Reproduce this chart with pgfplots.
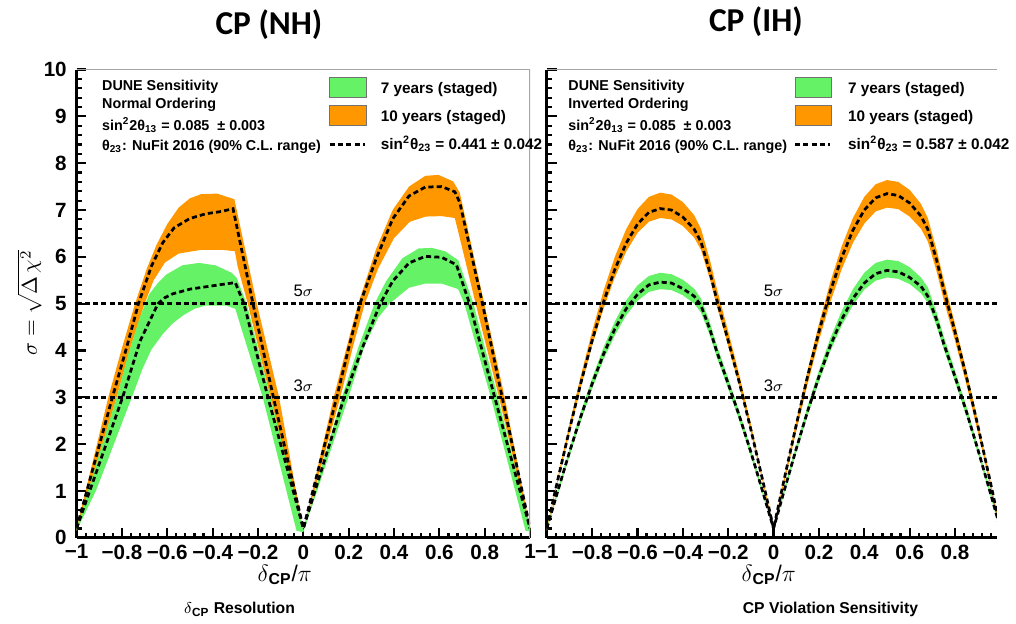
\documentclass[border=0pt]{standalone}
\usepackage{fontspec}
\setmainfont{Liberation Sans}
\newfontfamily\carlito{Carlito}
\usepackage{pgfplots}
\pgfplotsset{compat=1.18}

\definecolor{bandseven}{RGB}{102,242,102}
\definecolor{bandten}{RGB}{255,152,0}

\tikzset{sigdash/.style={black, line width=1.4pt, dash pattern=on 2.6pt off 1.6pt}}

\pgfplotsset{
  dune/.style={
    scale only axis, height=238.5pt, anchor=south west,
    xmin=-1, ymin=0, ymax=10,
    axis x line*=bottom, axis y line*=left,
    axis line style={black, line width=1.5pt},
    tick align=inside,
    xtick={-1,-0.8,-0.6,-0.4,-0.2,0,0.2,0.4,0.6,0.8,1},
    xticklabels={−1,−0.8,−0.6,−0.4,−0.2,0,0.2,0.4,0.6,0.8,1},
    ytick={0,1,2,3,4,5,6,7,8,9,10},
    minor x tick num=4, minor y tick num=4,
    major tick length=5pt, minor tick length=2.6pt,
    tick style={black, line width=1.1pt},
    tick label style={font=\fontsize{10.5}{12}\selectfont\bfseries},
    yticklabel style={xshift=-1.5pt},
  },
}

\newcommand\txt{\fontsize{7.3}{9}\selectfont\bfseries}
\newcommand\legtxt{\fontsize{7.8}{9}\selectfont\bfseries}

\begin{document}
\begin{tikzpicture}
\path (0,0) rectangle (508pt,315.5pt);

% ---------------- normal ordering
\begin{axis}[dune, at={(39pt,43pt)}, width=231pt, xmax=1,
  yticklabels={0,1,2,3,4,5,6,7,8,9,10}]
% 10 years band: upper edge, then lower edge backwards
\addplot[fill=bandten, draw=none] coordinates {
 (-1,0.2) (-0.93,1.6) (-0.86,3.0) (-0.80,4.05) (-0.742,5.0) (-0.69,5.75)
 (-0.648,6.25) (-0.60,6.7) (-0.55,7.05) (-0.50,7.25) (-0.45,7.34) (-0.38,7.35)
 (-0.304,7.23) (-0.205,5.0) (-0.107,3.0) (0,0.15) (0.134,3.0) (0.19,4.05)
 (0.242,5.0) (0.322,6.18) (0.394,7.0) (0.466,7.5) (0.538,7.73) (0.596,7.75)
 (0.661,7.61) (0.69,7.37) (0.798,5.0) (0.888,3.0) (1,0.2)
 (1,0.15) (0.863,3.0) (0.76,5.0) (0.685,6.5) (0.668,6.83) (0.61,6.87) (0.54,6.86)
 (0.47,6.75) (0.40,6.4) (0.33,5.75) (0.271,5.0) (0.22,4.1) (0.163,3.0) (0,0.15)
 (-0.145,3.0) (-0.245,5.0) (-0.29,5.8) (-0.302,6.12) (-0.36,6.15) (-0.45,6.15)
 (-0.55,6.07) (-0.61,5.88) (-0.66,5.5) (-0.70,5.0) (-0.76,4.1) (-0.823,3.0) (-1,0.15)};
% 7 years band
\addplot[fill=bandseven, draw=none] coordinates {
 (-1,0.2) (-0.823,3.0) (-0.77,3.95) (-0.72,4.72) (-0.68,5.2) (-0.64,5.45)
 (-0.605,5.62) (-0.533,5.82) (-0.46,5.87) (-0.388,5.82) (-0.316,5.66) (-0.294,5.55)
 (-0.25,5.0) (-0.145,3.0) (0,0.15) (0.17,3.0) (0.245,4.1) (0.314,5.0) (0.365,5.48)
 (0.437,5.97) (0.509,6.18) (0.567,6.19) (0.625,6.12) (0.683,5.93) (0.75,5.0)
 (0.858,3.0) (1,0.2)
 (1,0.15) (0.98,0.15) (0.827,3.0) (0.71,5.0) (0.683,5.31) (0.61,5.43) (0.538,5.43)
 (0.466,5.34) (0.38,5.0) (0.33,4.7) (0.27,4.1) (0.199,3.0) (0,0.12) (-0.03,0.15)
 (-0.179,3.0) (-0.30,4.89) (-0.34,4.96) (-0.43,4.96) (-0.48,4.89) (-0.53,4.75)
 (-0.576,4.58) (-0.62,4.35) (-0.67,4.02) (-0.71,3.6) (-0.756,3.0) (-0.80,2.45)
 (-0.855,1.75) (-0.915,1.0) (-1,0.15)};
\addplot[sigdash] coordinates {(-1,5) (1,5)};
\addplot[sigdash] coordinates {(-1,3) (1,3)};
\addplot[sigdash] coordinates {
 (-1,0.2) (-0.842,3.0) (-0.78,4.05) (-0.727,5.0) (-0.67,5.8) (-0.62,6.3)
 (-0.57,6.62) (-0.50,6.82) (-0.43,6.92) (-0.36,6.97) (-0.31,7.03) (-0.222,5.0)
 (-0.132,3.0) (0,0.2) (0.147,3.0) (0.20,4.05) (0.25,5.0) (0.322,5.97) (0.394,6.81)
 (0.466,7.3) (0.538,7.49) (0.61,7.5) (0.668,7.39) (0.69,7.16) (0.79,5.0)
 (0.877,3.0) (1,0.2)};
\addplot[sigdash] coordinates {
 (-1,0.2) (-0.797,3.0) (-0.72,4.2) (-0.641,5.0) (-0.61,5.13) (-0.576,5.21)
 (-0.50,5.31) (-0.43,5.36) (-0.36,5.41) (-0.30,5.45) (-0.262,5.0) (-0.156,3.0)
 (0,0.2) (0.18,3.0) (0.26,4.05) (0.339,5.0) (0.394,5.48) (0.466,5.87)
 (0.538,6.01) (0.61,5.99) (0.675,5.83) (0.733,5.0) (0.844,3.0) (1,0.2)};
\draw[gray!70, line width=0.6pt] (rel axis cs:0,1) -- (rel axis cs:1,1) -- (rel axis cs:1,0);
\node[font=\fontsize{8.5}{10}\selectfont] at (axis cs:0,5.28) {5$\sigma$};
\node[font=\fontsize{8.5}{10}\selectfont] at (axis cs:0,3.25) {3$\sigma$};
\end{axis}

% ---------------- inverted ordering (cut at the right edge as in the original)
\begin{axis}[dune, at={(278.5pt,43pt)}, width=229.3pt, xmax=0.985, yticklabels={}]
\addplot[fill=bandten, draw=none] coordinates {
 (-1,0.2) (-0.95,1.32) (-0.9,2.42) (-0.85,3.46) (-0.8,4.41) (-0.75,5.27)
 (-0.7,6.00) (-0.65,6.59) (-0.6,7.02) (-0.55,7.28) (-0.5,7.37) (-0.45,7.33)
 (-0.4,7.17) (-0.35,6.89) (-0.32,6.60) (-0.28,5.92) (-0.25,5.32) (-0.2,4.41)
 (-0.15,3.46) (-0.1,2.42) (-0.05,1.32) (0,0.2) (0.05,1.36) (0.1,2.50)
 (0.15,3.58) (0.2,4.57) (0.25,5.46) (0.3,6.22) (0.35,6.83) (0.4,7.28)
 (0.45,7.55) (0.5,7.64) (0.55,7.60) (0.6,7.43) (0.65,7.13) (0.68,6.83)
 (0.72,6.13) (0.75,5.51) (0.8,4.57) (0.85,3.58) (0.9,2.50) (0.95,1.36) (1,0.2)
 (1,0.15) (0.95,1.23) (0.9,2.28) (0.85,3.28) (0.8,4.21) (0.75,5.08) (0.72,5.67)
 (0.68,6.33) (0.65,6.60) (0.6,6.86) (0.55,7.02) (0.5,7.05) (0.45,6.97) (0.4,6.71)
 (0.35,6.30) (0.3,5.73) (0.25,5.03) (0.2,4.21) (0.15,3.28) (0.1,2.28) (0.05,1.23)
 (0,0.15) (-0.05,1.24) (-0.1,2.25) (-0.15,3.21) (-0.2,4.10) (-0.25,4.94)
 (-0.28,5.51) (-0.32,6.15) (-0.35,6.41) (-0.4,6.66) (-0.45,6.80) (-0.5,6.83)
 (-0.55,6.75) (-0.6,6.51) (-0.65,6.11) (-0.7,5.56) (-0.75,4.89) (-0.8,4.10)
 (-0.85,3.21) (-0.9,2.25) (-0.95,1.24) (-1,0.15)};
\addplot[fill=bandseven, draw=none] coordinates {
 (-1,0.2) (-0.95,1.05) (-0.9,1.89) (-0.85,2.68) (-0.8,3.41) (-0.75,4.06)
 (-0.7,4.62) (-0.65,5.07) (-0.6,5.39) (-0.55,5.59) (-0.5,5.66) (-0.45,5.63)
 (-0.4,5.51) (-0.35,5.32) (-0.32,5.11) (-0.28,4.59) (-0.25,4.11) (-0.2,3.41)
 (-0.15,2.68) (-0.1,1.89) (-0.05,1.05) (0,0.2) (0.05,1.10) (0.1,1.97)
 (0.15,2.81) (0.2,3.57) (0.25,4.26) (0.3,4.84) (0.35,5.31) (0.4,5.66)
 (0.45,5.87) (0.5,5.94) (0.55,5.91) (0.6,5.78) (0.65,5.56) (0.68,5.35)
 (0.72,4.80) (0.75,4.31) (0.8,3.57) (0.85,2.81) (0.9,1.97) (0.95,1.10) (1,0.2)
 (1,0.15) (0.95,1.00) (0.9,1.82) (0.85,2.61) (0.8,3.33) (0.75,4.03) (0.72,4.50)
 (0.68,5.02) (0.65,5.22) (0.6,5.42) (0.55,5.53) (0.5,5.56) (0.45,5.49) (0.4,5.30)
 (0.35,4.97) (0.3,4.53) (0.25,3.98) (0.2,3.33) (0.15,2.61) (0.1,1.82) (0.05,1.00)
 (0,0.15) (-0.05,0.96) (-0.1,1.74) (-0.15,2.49) (-0.2,3.18) (-0.25,3.85)
 (-0.28,4.31) (-0.32,4.81) (-0.35,5.00) (-0.4,5.18) (-0.45,5.29) (-0.5,5.31)
 (-0.55,5.25) (-0.6,5.06) (-0.65,4.75) (-0.7,4.32) (-0.75,3.80) (-0.8,3.18)
 (-0.85,2.49) (-0.9,1.74) (-0.95,0.96) (-1,0.15)};
\addplot[sigdash] coordinates {(-1,5) (1,5)};
\addplot[sigdash] coordinates {(-1,3) (1,3)};
\addplot[sigdash] coordinates {
 (-1,0.2) (-0.95,1.27) (-0.9,2.31) (-0.85,3.30) (-0.8,4.21) (-0.75,5.03)
 (-0.7,5.73) (-0.65,6.29) (-0.6,6.70) (-0.55,6.95) (-0.5,7.03) (-0.45,7.00)
 (-0.4,6.85) (-0.35,6.59) (-0.32,6.32) (-0.28,5.66) (-0.25,5.08) (-0.2,4.21)
 (-0.15,3.30) (-0.1,2.31) (-0.05,1.27) (0,0.2) (0.05,1.32) (0.1,2.41)
 (0.15,3.45) (0.2,4.40) (0.25,5.26) (0.3,5.98) (0.35,6.57) (0.4,7.00)
 (0.45,7.26) (0.5,7.35) (0.55,7.31) (0.6,7.15) (0.65,6.87) (0.68,6.59)
 (0.72,5.91) (0.75,5.31) (0.8,4.40) (0.85,3.45) (0.9,2.41) (0.95,1.32) (1,0.2)};
\addplot[sigdash] coordinates {
 (-1,0.2) (-0.95,1.02) (-0.9,1.83) (-0.85,2.59) (-0.8,3.29) (-0.75,3.92)
 (-0.7,4.46) (-0.65,4.89) (-0.6,5.20) (-0.55,5.40) (-0.5,5.46) (-0.45,5.44)
 (-0.4,5.32) (-0.35,5.16) (-0.32,4.96) (-0.28,4.44) (-0.25,3.97) (-0.2,3.29)
 (-0.15,2.59) (-0.1,1.83) (-0.05,1.02) (0,0.2) (0.05,1.06) (0.1,1.90)
 (0.15,2.70) (0.2,3.44) (0.25,4.10) (0.3,4.66) (0.35,5.11) (0.4,5.44)
 (0.45,5.64) (0.5,5.71) (0.55,5.68) (0.6,5.56) (0.65,5.37) (0.68,5.16)
 (0.72,4.64) (0.75,4.15) (0.8,3.44) (0.85,2.70) (0.9,1.90) (0.95,1.06) (1,0.2)};
\draw[gray!70, line width=0.6pt] (rel axis cs:0,1) -- (rel axis cs:1,1);
\node[font=\fontsize{8.5}{10}\selectfont] at (axis cs:0,5.28) {5$\sigma$};
\node[font=\fontsize{8.5}{10}\selectfont] at (axis cs:0,3.25) {3$\sigma$};
\end{axis}

% ---------------- text around the panels (pixel coordinates, y down)
\begin{scope}[x=0.5pt, y=-0.5pt, yshift=315.5pt]
\node[font=\carlito\bfseries\fontsize{17}{20}\selectfont] at (274,22) {CP (NH)};
\node[font=\carlito\bfseries\fontsize{17}{20}\selectfont] at (770,19) {CP (IH)};
\node[rotate=90, font=\fontsize{11}{13}\selectfont] at (30,306) {$\sigma = \sqrt{\Delta\,\chi^{2}}$};
\node[font=\fontsize{11.5}{13}\selectfont] at (290,583) {$\delta$\textsubscript{\bfseries CP}/$\pi$};
\node[font=\fontsize{11.5}{13}\selectfont] at (783,583) {$\delta$\textsubscript{\bfseries CP}/$\pi$};
\node[font=\fontsize{8}{10}\selectfont\bfseries] at (244,618) {$\delta$\textsubscript{CP} Resolution};
\node[font=\fontsize{8}{10}\selectfont\bfseries] at (846,618) {CP Violation Sensitivity};

% left text block and legend
\node[anchor=base west, font=\txt] at (97,89) {DUNE Sensitivity};
\node[anchor=base west, font=\txt] at (97,108) {Normal Ordering};
\node[anchor=base west, font=\txt] at (97,130) {sin\textsuperscript{2}2θ\textsubscript{13} = 0.085 \ ± 0.003};
\node[anchor=base west, font=\txt] at (97,150) {θ\textsubscript{23}: NuFit 2016 (90\% C.L. range)};
\draw[fill=bandseven, draw=black!55, line width=0.5pt] (336,76) rectangle (373,96);
\draw[fill=bandten, draw=black!55, line width=0.5pt] (336,105) rectangle (373,125);
\draw[sigdash] (336,144) -- (372,144);
\node[anchor=base west, font=\legtxt] at (381,92) {7 years (staged)};
\node[anchor=base west, font=\legtxt] at (381,121) {10 years (staged)};
\node[anchor=base west, font=\legtxt] at (381,149) {sin\textsuperscript{2}θ\textsubscript{23} = 0.441 ± 0.042};

% right text block and legend
\node[anchor=base west, font=\txt] at (572,89) {DUNE Sensitivity};
\node[anchor=base west, font=\txt] at (572,108) {Inverted Ordering};
\node[anchor=base west, font=\txt] at (572,130) {sin\textsuperscript{2}2θ\textsubscript{13} = 0.085 \ ± 0.003};
\node[anchor=base west, font=\txt] at (572,150) {θ\textsubscript{23}: NuFit 2016 (90\% C.L. range)};
\draw[fill=bandseven, draw=black!55, line width=0.5pt] (810,76) rectangle (847,96);
\draw[fill=bandten, draw=black!55, line width=0.5pt] (810,105) rectangle (847,125);
\draw[sigdash] (810,144) -- (846,144);
\node[anchor=base west, font=\legtxt] at (857,92) {7 years (staged)};
\node[anchor=base west, font=\legtxt] at (857,121) {10 years (staged)};
\node[anchor=base west, font=\legtxt] at (857,149) {sin\textsuperscript{2}θ\textsubscript{23} = 0.587 ± 0.042};
\end{scope}
\end{tikzpicture}
\end{document}
